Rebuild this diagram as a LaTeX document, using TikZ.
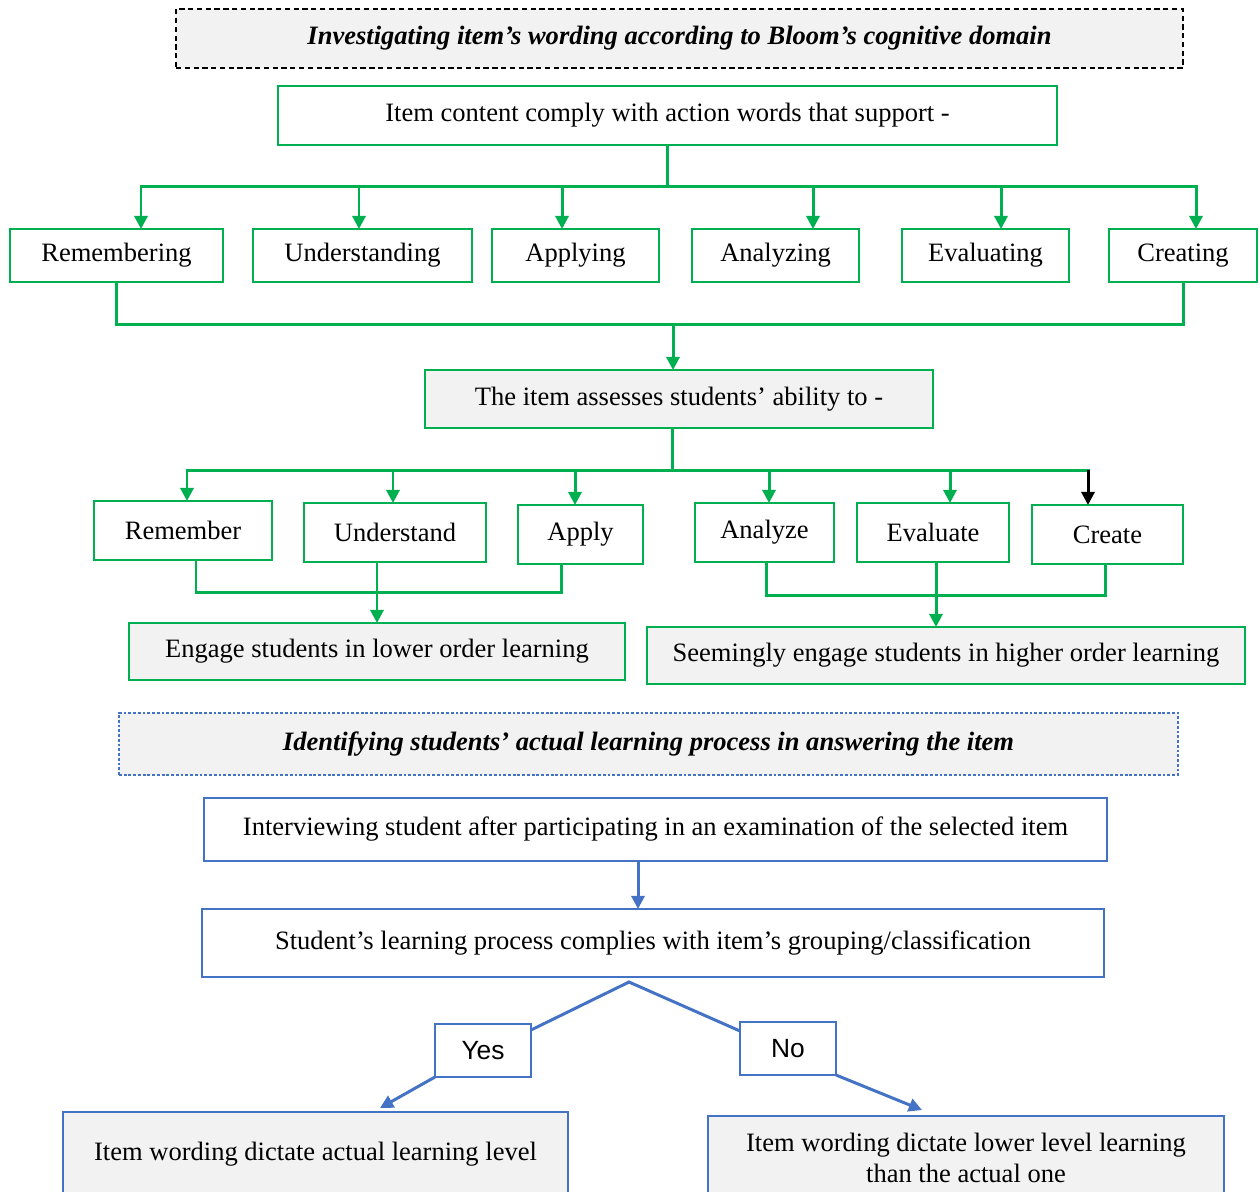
\documentclass[tikz,border=0pt]{standalone}
\usepackage{fontspec}
\setmainfont{Liberation Serif}
\newfontfamily\sansf{Liberation Sans}
\usetikzlibrary{arrows.meta}
\newlength\pxu
\setlength\pxu{0.02cm}
\definecolor{gr}{HTML}{00B050}
\definecolor{bl}{HTML}{4472C4}
\definecolor{lg}{HTML}{F2F2F2}
\begin{document}
\begin{tikzpicture}[x=0.02cm,y=-0.02cm,
 fs/.style={font=\fontsize{15.1}{18}\selectfont},
 plainbox/.style={draw, line width=1.1pt, inner sep=2pt, outer sep=0pt, align=center, fs},
 gbox/.style={plainbox, draw=gr, fill=white},
 ggbox/.style={plainbox, draw=gr, fill=lg},
 bluebox/.style={plainbox, draw=bl, fill=white},
 bluegray/.style={plainbox, draw=bl, fill=lg},
 hd/.style={plainbox, fill=lg, line width=1pt},
 gline/.style={draw=gr, line width=1.7pt},
 garrow/.style={gline, -{Triangle[length=7.5pt,width=7.5pt]}},
 bline/.style={draw=bl, line width=1.7pt},
 barrow/.style={bline, -{Triangle[length=7.5pt,width=7.5pt]}},
]
\useasboundingbox (0,0) rectangle (1260,1191);
\clip (0,0) rectangle (1260,1191);

% headers
\node[hd, draw=black, dash pattern=on 3pt off 2pt, minimum width=1007\pxu, minimum height=59\pxu] (h1) at (679.5,38.5) {\bfseries\itshape Investigating item’s wording according to Bloom’s cognitive domain};
\node[gbox, minimum width=779\pxu, minimum height=59\pxu] (A) at (667.5,115.5) {Item content comply with action words that support -};

% row 1
\node[gbox, minimum width=213\pxu, minimum height=53\pxu] (rem1) at (116.5,255.5) {Remembering};
\node[gbox, minimum width=219\pxu, minimum height=53\pxu] (und1) at (362.5,255.5) {Understanding};
\node[gbox, minimum width=167\pxu, minimum height=53\pxu] (app1) at (575.5,255.5) {Applying};
\node[gbox, minimum width=167\pxu, minimum height=53\pxu] (ana1) at (775.5,255.5) {Analyzing};
\node[gbox, minimum width=167\pxu, minimum height=53\pxu] (eva1) at (985.5,255.5) {Evaluating};
\node[gbox, minimum width=148\pxu, minimum height=53\pxu] (cre1) at (1183,255.5) {Creating};

\node[ggbox, minimum width=508\pxu, minimum height=58\pxu] (B) at (679,399) {The item assesses students’ ability to -};

% row 2
\node[gbox, minimum width=178\pxu, minimum height=59\pxu] (rem2) at (183,530.5) {Remember};
\node[gbox, minimum width=182\pxu, minimum height=59\pxu] (und2) at (395,532.5) {Understand};
\node[gbox, minimum width=125\pxu, minimum height=59\pxu] (app2) at (580.5,534.5) {Apply};
\node[gbox, minimum width=139\pxu, minimum height=59\pxu] (ana2) at (764.5,532.5) {Analyze};
\node[gbox, minimum width=152\pxu, minimum height=59\pxu] (eva2) at (933,532.5) {Evaluate};
\node[gbox, minimum width=151\pxu, minimum height=59\pxu] (cre2) at (1107.5,534.5) {Create};

\node[ggbox, minimum width=496\pxu, minimum height=57\pxu] (eng) at (377,651.5) {Engage students in lower order learning};
\node[ggbox, minimum width=598\pxu, minimum height=57\pxu] (seem) at (946,655.5) {Seemingly engage students in higher order learning};

% second part
\node[hd, draw=bl, dash pattern=on 1.6pt off 1.1pt, minimum width=1059\pxu, minimum height=62\pxu] (h2) at (648.5,744) {\bfseries\itshape Identifying students’ actual learning process in answering the item};
\node[bluebox, minimum width=903\pxu, minimum height=63\pxu] (C) at (655.5,829.5) {Interviewing student after participating in an examination of the selected item};
\node[bluebox, minimum width=902\pxu, minimum height=68\pxu] (D) at (653,943) {Student’s learning process complies with item’s grouping/classification};
\node[bluebox, minimum width=96\pxu, minimum height=53\pxu, font=\sansf\fontsize{15}{17}\selectfont] (yes) at (483,1050.5) {Yes};
\node[bluebox, minimum width=96\pxu, minimum height=53\pxu, font=\sansf\fontsize{15}{17}\selectfont] (no) at (788,1048.5) {No};
\node[bluegray, minimum width=505\pxu, minimum height=84\pxu] (L) at (315.5,1154) {Item wording dictate actual learning level};
\node[bluegray, minimum width=516\pxu, minimum height=84\pxu, font=\fontsize{15.1}{18}\selectfont] (R) at (966,1158) {Item wording dictate lower level learning\\than the actual one};

% connectors part 1
\coordinate (b1) at (669,186);
\draw[gline] (A.south) -- (A.south |- b1);
\foreach \n/\s in {rem1/24.5,und1/-3.5,app1/-13.5,ana1/37.5,eva1/15.5,cre1/13}{
  \coordinate (\n-t) at ([xshift=\s\pxu]\n.north);
  \draw[garrow] (\n-t |- b1) -- (\n-t);
}
\draw[gline, line cap=rect] (rem1-t |- b1) -- (cre1-t |- b1);

\coordinate (b2) at (673,324);
\draw[gline, line join=miter] (rem1.south) |- (cre1.south |- b2) -- (cre1.south);
\coordinate (Bt) at ([xshift=-6\pxu]B.north);
\draw[garrow] (Bt |- b2) -- (Bt);

\coordinate (b3) at (672,470);
\coordinate (Bb) at ([xshift=-7\pxu]B.south);
\draw[gline] (Bb) -- (Bb |- b3);
\foreach \n/\s in {rem2/4,und2/-2,app2/-5.5,ana2/4.5,eva2/17}{
  \coordinate (\n-t) at ([xshift=\s\pxu]\n.north);
  \draw[garrow] (\n-t |- b3) -- (\n-t);
}
\coordinate (cre2-t) at ([xshift=-19.5\pxu]cre2.north);
\draw[gline, line cap=rect] (rem2-t |- b3) -- (cre2-t |- b3);
\draw[black, line width=1.7pt, -{Triangle[length=7.5pt,width=7.5pt]}] (cre2-t |- b3) -- (cre2-t);

\coordinate (b4) at (377,592);
\coordinate (rem2-b) at ([xshift=13\pxu]rem2.south);
\coordinate (app2-b) at ([xshift=-19.5\pxu]app2.south);
\draw[gline, line join=miter] (rem2-b) |- (app2-b |- b4) -- (app2-b);
\coordinate (und2-b) at ([xshift=-18\pxu]und2.south);
\draw[garrow] (und2-b) -- (und2-b |- eng.north);

\coordinate (b5) at (936,595);
\coordinate (ana2-b) at ([xshift=1.5\pxu]ana2.south);
\coordinate (cre2-b) at ([xshift=-2.5\pxu]cre2.south);
\draw[gline, line join=miter] (ana2-b) |- (cre2-b |- b5) -- (cre2-b);
\coordinate (eva2-b) at ([xshift=3\pxu]eva2.south);
\draw[garrow] (eva2-b) -- (eva2-b |- seem.north);

% connectors part 2
\coordinate (Cb) at ([xshift=-17.5\pxu]C.south);
\draw[barrow] (Cb) -- (Cb |- D.north);
\coordinate (apex) at ([xshift=-24\pxu,yshift=-5\pxu]D.south);
\draw[bline, line join=miter] ([yshift=-6\pxu]yes.north east) -- (apex) -- ([yshift=-9\pxu]no.north west);
\draw[barrow] (yes.south west) -- ([xshift=64.5\pxu,yshift=4\pxu]L.north);
\draw[barrow] (no.south east) -- ([xshift=-44\pxu,yshift=6\pxu]R.north);
\end{tikzpicture}
\end{document}
